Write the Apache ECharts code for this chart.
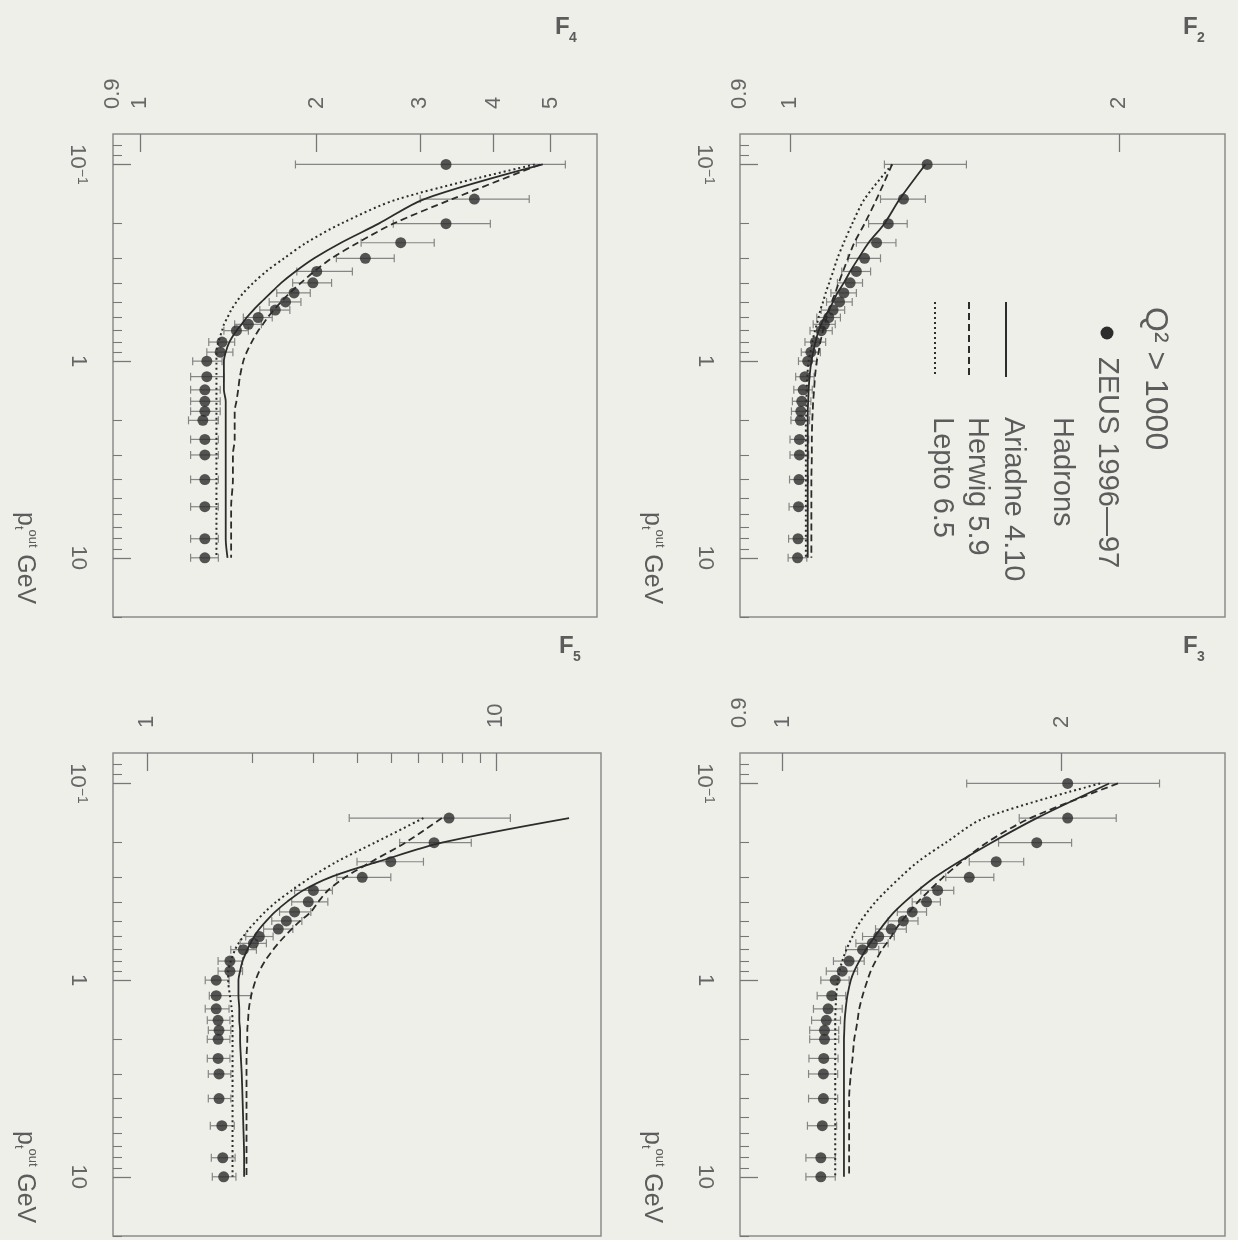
<!DOCTYPE html>
<html>
<head>
<meta charset="utf-8">
<script src="https://cdn.jsdelivr.net/npm/echarts@6/dist/echarts.min.js"></script>
<style>
html, body { margin: 0; padding: 0; background: #efefea; }
#main { width: 1238px; height: 1240px; }
</style>
</head>
<body>
<div id="main"></div>
<script>
// p_t^out bin centres (GeV), same bins in every panel
var ptBins = [0.1, 0.15, 0.2, 0.25, 0.3, 0.35, 0.4, 0.45, 0.5, 0.55, 0.6, 0.65, 0.7, 0.8, 0.9, 1.0, 1.2, 1.4, 1.6, 1.8, 2.0, 2.5, 3, 4, 5.5, 8, 10];

// F2
var f2Zeus = [1.335, 1.27, 1.23, 1.20, 1.17, 1.15, 1.135, 1.12, 1.11, 1.095, 1.085, 1.075, 1.068, 1.055, 1.045, 1.038, 1.032, 1.028, 1.025, 1.023, 1.022, 1.02, 1.02, 1.019, 1.018, 1.017, 1.016];
var f2Lo = [1.22, 1.21, 1.18, 1.15, 1.13, 1.115, 1.105, 1.09, 1.08, 1.068, 1.058, 1.05, 1.043, 1.032, 1.024, 1.018, 1.012, 1.008, 1.005, 1.003, 1.002, 1.0, 1.0, 0.999, 0.998, 0.997, 0.996];
var f2Hi = [1.45, 1.33, 1.28, 1.25, 1.21, 1.185, 1.165, 1.15, 1.14, 1.122, 1.112, 1.1, 1.093, 1.078, 1.066, 1.058, 1.052, 1.048, 1.045, 1.043, 1.042, 1.04, 1.04, 1.039, 1.038, 1.037, 1.036];
var f2Ariadne = [1.33, 1.26, 1.22, 1.18, 1.155, 1.135, 1.12, 1.105, 1.095, 1.085, 1.075, 1.068, 1.062, 1.055, 1.05, 1.046, 1.042, 1.04, 1.039, 1.038, 1.038, 1.038, 1.038, 1.038, 1.038, 1.038, 1.038];
var f2Herwig = [1.24, 1.2, 1.17, 1.145, 1.13, 1.118, 1.108, 1.1, 1.092, 1.086, 1.08, 1.076, 1.072, 1.066, 1.062, 1.058, 1.054, 1.052, 1.05, 1.049, 1.048, 1.047, 1.047, 1.046, 1.046, 1.046, 1.046];
var f2Lepto = [1.24, 1.17, 1.14, 1.12, 1.105, 1.095, 1.086, 1.078, 1.072, 1.066, 1.062, 1.058, 1.054, 1.048, 1.044, 1.04, 1.037, 1.036, 1.035, 1.035, 1.034, 1.034, 1.034, 1.034, 1.034, 1.034, 1.034];

// F3
var f3Zeus = [2.03, 2.03, 1.88, 1.70, 1.59, 1.47, 1.43, 1.38, 1.35, 1.31, 1.27, 1.25, 1.22, 1.18, 1.16, 1.14, 1.13, 1.12, 1.115, 1.11, 1.11, 1.108, 1.107, 1.107, 1.104, 1.10, 1.10];
var f3Lo = [1.58, 1.80, 1.71, 1.59, 1.50, 1.41, 1.38, 1.33, 1.30, 1.26, 1.22, 1.2, 1.17, 1.135, 1.115, 1.1, 1.09, 1.08, 1.075, 1.07, 1.07, 1.068, 1.067, 1.067, 1.064, 1.06, 1.06];
var f3Hi = [2.55, 2.29, 2.05, 1.82, 1.69, 1.53, 1.48, 1.43, 1.40, 1.36, 1.32, 1.30, 1.27, 1.225, 1.205, 1.18, 1.17, 1.16, 1.155, 1.15, 1.15, 1.148, 1.147, 1.147, 1.144, 1.14, 1.14];
var f3Ariadne = [2.25, 1.88, 1.68, 1.55, 1.46, 1.40, 1.355, 1.32, 1.295, 1.275, 1.258, 1.243, 1.23, 1.21, 1.195, 1.185, 1.175, 1.17, 1.167, 1.166, 1.165, 1.165, 1.165, 1.165, 1.165, 1.165, 1.165];
var f3Herwig = [2.3, 1.85, 1.66, 1.56, 1.49, 1.44, 1.40, 1.37, 1.345, 1.325, 1.31, 1.295, 1.28, 1.26, 1.245, 1.235, 1.22, 1.21, 1.205, 1.2, 1.195, 1.19, 1.185, 1.18, 1.18, 1.18, 1.18];
var f3Lepto = [2.2, 1.65, 1.50, 1.40, 1.34, 1.295, 1.26, 1.235, 1.215, 1.2, 1.19, 1.18, 1.172, 1.16, 1.152, 1.147, 1.143, 1.141, 1.14, 1.14, 1.14, 1.14, 1.14, 1.14, 1.14, 1.14, 1.14];

// F4
var f4Zeus = [3.32, 3.71, 3.32, 2.78, 2.42, 2.0, 1.97, 1.83, 1.77, 1.70, 1.59, 1.53, 1.46, 1.38, 1.37, 1.30, 1.30, 1.29, 1.29, 1.29, 1.28, 1.29, 1.29, 1.29, 1.29, 1.29, 1.29];
var f4Lo = [1.84, 3.0, 2.7, 2.38, 2.16, 1.85, 1.82, 1.71, 1.66, 1.60, 1.50, 1.45, 1.39, 1.31, 1.30, 1.23, 1.22, 1.22, 1.22, 1.22, 1.21, 1.22, 1.22, 1.22, 1.22, 1.22, 1.22];
var f4Hi = [5.3, 4.6, 3.95, 3.17, 2.71, 2.3, 2.12, 1.95, 1.88, 1.80, 1.68, 1.61, 1.53, 1.45, 1.44, 1.38, 1.39, 1.37, 1.37, 1.37, 1.36, 1.36, 1.36, 1.36, 1.36, 1.36, 1.36];
var f4Ariadne = [4.85, 3.05, 2.55, 2.2, 1.98, 1.84, 1.74, 1.67, 1.61, 1.56, 1.52, 1.49, 1.46, 1.42, 1.40, 1.39, 1.39, 1.39, 1.40, 1.40, 1.40, 1.40, 1.40, 1.40, 1.40, 1.40, 1.41];
var f4Herwig = [4.8, 3.4, 2.7, 2.35, 2.12, 1.98, 1.88, 1.80, 1.74, 1.69, 1.65, 1.62, 1.59, 1.55, 1.52, 1.50, 1.48, 1.47, 1.46, 1.45, 1.45, 1.45, 1.44, 1.44, 1.43, 1.43, 1.43];
var f4Lepto = [4.7, 2.75, 2.2, 1.92, 1.76, 1.64, 1.56, 1.50, 1.46, 1.43, 1.41, 1.39, 1.38, 1.36, 1.35, 1.35, 1.35, 1.35, 1.35, 1.35, 1.35, 1.35, 1.35, 1.35, 1.35, 1.35, 1.35];

// F5 (first bin is off scale)
var f5Zeus = [null, 7.34, 6.65, 5.0, 4.14, 3.0, 2.9, 2.65, 2.51, 2.38, 2.10, 2.02, 1.89, 1.73, 1.73, 1.58, 1.58, 1.58, 1.60, 1.61, 1.60, 1.60, 1.61, 1.61, 1.64, 1.65, 1.66];
var f5Lo = [null, 3.8, 5.3, 4.0, 3.5, 2.65, 2.6, 2.4, 2.28, 2.16, 1.92, 1.85, 1.74, 1.6, 1.6, 1.47, 1.51, 1.47, 1.49, 1.5, 1.49, 1.49, 1.5, 1.5, 1.52, 1.53, 1.54];
var f5Hi = [null, 11, 8.5, 6.2, 5.0, 3.4, 3.3, 2.95, 2.78, 2.62, 2.3, 2.2, 2.06, 1.88, 1.88, 1.72, 1.99, 1.72, 1.73, 1.74, 1.73, 1.73, 1.74, 1.74, 1.78, 1.79, 1.8];
var f5Ariadne = [null, 16.2, 7.0, 4.6, 3.35, 2.8, 2.52, 2.33, 2.2, 2.1, 2.03, 1.98, 1.94, 1.88, 1.85, 1.83, 1.83, 1.84, 1.84, 1.85, 1.85, 1.86, 1.87, 1.88, 1.89, 1.9, 1.9];
var f5Herwig = [null, 7.0, 5.5, 4.4, 3.7, 3.3, 3.1, 2.95, 2.75, 2.6, 2.48, 2.38, 2.3, 2.18, 2.1, 2.05, 1.99, 1.96, 1.95, 1.94, 1.94, 1.93, 1.93, 1.93, 1.93, 1.93, 1.93];
var f5Lepto = [null, 6.2, 4.5, 3.5, 2.95, 2.6, 2.35, 2.18, 2.06, 1.96, 1.89, 1.83, 1.79, 1.74, 1.71, 1.71, 1.73, 1.75, 1.76, 1.76, 1.76, 1.76, 1.76, 1.76, 1.76, 1.76, 1.76];

// tick / label values
var ptMajor = [0.1, 1, 10];
var ptMinor = [0.08, 0.09, 0.2, 0.3, 0.4, 0.5, 0.6, 0.7, 0.8, 0.9, 2, 3, 4, 5, 6, 7, 8, 9, 20];
var ptLabels = [0.1, 1, 10];

var fontName = '"Liberation Sans", Arial, sans-serif';
var ink = '#2c2c2c';
var textGrey = '#5c5c5c';

var panels = [
	{ sub: '2', box: [740, 134, 485, 483], fMin: 0.9, fMax: 2.5, fTicks: [1, 2], fMinor: [], fLabels: [0.9, 1, 2],
		zeus: f2Zeus, lo: f2Lo, hi: f2Hi, ariadne: f2Ariadne, herwig: f2Herwig, lepto: f2Lepto },
	{ sub: '3', box: [740, 753, 485, 483], fMin: 0.9, fMax: 3, fTicks: [1, 2], fMinor: [], fLabels: [0.9, 1, 2],
		zeus: f3Zeus, lo: f3Lo, hi: f3Hi, ariadne: f3Ariadne, herwig: f3Herwig, lepto: f3Lepto },
	{ sub: '4', box: [113, 134, 484, 483], fMin: 0.9, fMax: 6, fTicks: [1, 2, 3, 4, 5], fMinor: [], fLabels: [0.9, 1, 2, 3, 4, 5],
		zeus: f4Zeus, lo: f4Lo, hi: f4Hi, ariadne: f4Ariadne, herwig: f4Herwig, lepto: f4Lepto },
	{ sub: '5', box: [113, 753, 488, 483], fMin: 0.8, fMax: 20, fTicks: [1, 10], fMinor: [2, 3, 4, 5, 6, 7, 8, 9], fLabels: [1, 10],
		zeus: f5Zeus, lo: f5Lo, hi: f5Hi, ariadne: f5Ariadne, herwig: f5Herwig, lepto: f5Lepto }
];

function pairs(vals) {
	var out = [];
	for (var i = 0; i < ptBins.length; i++) {
		if (vals[i] != null) out.push([vals[i], ptBins[i]]);
	}
	return out;
}

function errPairs(lo, hi) {
	var out = [];
	for (var i = 0; i < ptBins.length; i++) {
		if (lo[i] != null) out.push([lo[i], hi[i], ptBins[i]]);
	}
	return out;
}

function renderErr(params, api) {
	var a = api.coord([api.value(0), api.value(2)]);
	var b = api.coord([api.value(1), api.value(2)]);
	var st = { stroke: '#858585', lineWidth: 1.2 };
	var c = 4;
	return {
		type: 'group',
		children: [
			{ type: 'line', shape: { x1: a[0], y1: a[1], x2: b[0], y2: b[1] }, style: st },
			{ type: 'line', shape: { x1: a[0], y1: a[1] - c, x2: a[0], y2: a[1] + c }, style: st },
			{ type: 'line', shape: { x1: b[0], y1: b[1] - c, x2: b[0], y2: b[1] + c }, style: st }
		]
	};
}

var labelStyle = { color: '#666', fontSize: 22, fontFamily: fontName };

var option = {
	backgroundColor: '#efefea',
	animation: false,
	grid: [], xAxis: [], yAxis: [], series: [], graphic: []
};

panels.forEach(function(p, i) {
	option.grid.push({
		left: p.box[0], top: p.box[1], width: p.box[2], height: p.box[3],
		show: true, borderColor: '#8c8c8c', borderWidth: 1.5, backgroundColor: 'transparent'
	});
	// F axis (horizontal, drawn along the top edge)
	option.xAxis.push({
		gridIndex: i, type: 'log', min: p.fMin, max: p.fMax, position: 'top',
		axisLine: { show: false }, splitLine: { show: false },
		axisTick: { inside: true, length: 18, customValues: p.fTicks, lineStyle: { color: '#777', width: 1.3 } },
		axisLabel: Object.assign({ customValues: p.fLabels, rotate: -90, margin: 25,
			formatter: function(v) { return String(+(+v).toPrecision(3)); } }, labelStyle)
	});
	option.xAxis.push({
		gridIndex: i, type: 'log', min: p.fMin, max: p.fMax, position: 'top',
		axisLine: { show: false }, splitLine: { show: false }, axisLabel: { show: false },
		axisTick: { show: p.fMinor.length > 0, inside: true, length: 10, customValues: p.fMinor.length ? p.fMinor : [1], lineStyle: { color: '#777', width: 1.2 } }
	});
	// p_t axis (vertical, increasing downwards)
	option.yAxis.push({
		gridIndex: i, type: 'log', min: 0.07, max: 20, inverse: true, position: 'left',
		axisLine: { show: false }, splitLine: { show: false },
		axisTick: { inside: true, length: 18, customValues: ptMajor, lineStyle: { color: '#777', width: 1.3 } },
		axisLabel: Object.assign({ customValues: ptLabels, rotate: -90, margin: 24,
			formatter: function(v) {
				if (Math.abs(v - 0.1) < 1e-6) return '{n|10}{s|\u22121}';
				return String(Math.round(v));
			},
			rich: {
				n: { fontSize: 22, color: '#666', fontFamily: fontName },
				s: { fontSize: 14, color: '#666', fontFamily: fontName, padding: [0, 0, 10, 0] }
			}
		}, labelStyle)
	});
	option.yAxis.push({
		gridIndex: i, type: 'log', min: 0.07, max: 20, inverse: true, position: 'left',
		axisLine: { show: false }, splitLine: { show: false }, axisLabel: { show: false },
		axisTick: { inside: true, length: 9, customValues: ptMinor, lineStyle: { color: '#777', width: 1.1 } }
	});

	var xi = 2 * i, yi = 2 * i;
	option.series.push({
		type: 'custom', xAxisIndex: xi, yAxisIndex: yi, renderItem: renderErr,
		data: errPairs(p.lo, p.hi), encode: { x: [0, 1], y: 2 }, z: 2
	});
	var models = [
		{ name: 'Ariadne 4.10', vals: p.ariadne, dash: 'solid', w: 1.8 },
		{ name: 'Herwig 5.9', vals: p.herwig, dash: [7, 4], w: 1.8 },
		{ name: 'Lepto 6.5', vals: p.lepto, dash: [2, 3], w: 2 }
	];
	models.forEach(function(m) {
		option.series.push({
			type: 'line', name: m.name, xAxisIndex: xi, yAxisIndex: yi,
			data: pairs(m.vals), showSymbol: false, smooth: 0.3,
			lineStyle: { color: ink, width: m.w, type: m.dash }, z: 3
		});
	});
	option.series.push({
		type: 'scatter', name: 'ZEUS 1996-97', xAxisIndex: xi, yAxisIndex: yi,
		data: pairs(p.zeus), symbol: 'circle', symbolSize: 11,
		itemStyle: { color: ink }, z: 4
	});

	// panel title F_n (upright)
	var fx = p.box[0] + p.box[2] - 42, fy = p.box[1] - 119;
	option.graphic.push({ type: 'text', x: fx, y: fy, style: { text: 'F', font: 'bold 24px ' + fontName, fill: textGrey } });
	option.graphic.push({ type: 'text', x: fx + 14, y: fy + 16, style: { text: p.sub, font: 'bold 14px ' + fontName, fill: textGrey } });
	// axis title p_t^out GeV (rotated with the page)
	option.graphic.push({
		type: 'text', x: p.box[0] - 88, y: p.box[1] + 378, rotation: -Math.PI / 2,
		style: {
			text: '{p|p}{t|t}{o|out}  {g|GeV}', verticalAlign: 'middle', align: 'left',
			rich: {
				p: { fontSize: 25, fill: textGrey, fontFamily: fontName },
				t: { fontSize: 13, fill: textGrey, fontFamily: fontName, padding: [12, 0, 0, 0] },
				o: { fontSize: 13, fill: textGrey, fontFamily: fontName, padding: [0, 0, 16, 0] },
				g: { fontSize: 25, fill: textGrey, fontFamily: fontName }
			}
		}
	});
});

// legend, drawn inside the F2 panel and rotated like the rest of the page
var leg = panels[0].box;
var legFont = '29px ' + fontName;
option.graphic.push({
	type: 'group', x: leg[0] + 445, y: leg[1] + 161, rotation: -Math.PI / 2,
	children: [
		{ type: 'text', x: 12, y: 30, style: { text: 'Q\u00b2 > 1000', font: '32px ' + fontName, fill: textGrey, verticalAlign: 'middle' } },
		{ type: 'circle', shape: { cx: 38, cy: 78, r: 6.5 }, style: { fill: ink } },
		{ type: 'text', x: 62, y: 78, style: { text: 'ZEUS 1996\u201497', font: legFont, fill: textGrey, verticalAlign: 'middle' } },
		{ type: 'text', x: 122, y: 123, style: { text: 'Hadrons', font: legFont, fill: textGrey, verticalAlign: 'middle' } },
		{ type: 'line', shape: { x1: 7, y1: 179, x2: 82, y2: 179 }, style: { stroke: ink, lineWidth: 2 } },
		{ type: 'text', x: 122, y: 172, style: { text: 'Ariadne 4.10', font: legFont, fill: textGrey, verticalAlign: 'middle' } },
		{ type: 'line', shape: { x1: 7, y1: 216, x2: 82, y2: 216 }, style: { stroke: ink, lineWidth: 2, lineDash: [7, 4] } },
		{ type: 'text', x: 122, y: 208, style: { text: 'Herwig 5.9', font: legFont, fill: textGrey, verticalAlign: 'middle' } },
		{ type: 'line', shape: { x1: 7, y1: 250, x2: 82, y2: 250 }, style: { stroke: ink, lineWidth: 2, lineDash: [2, 3] } },
		{ type: 'text', x: 122, y: 243, style: { text: 'Lepto 6.5', font: legFont, fill: textGrey, verticalAlign: 'middle' } }
	]
});

var myChart = echarts.init(document.getElementById('main'));
myChart.setOption(option);
</script>
</body>
</html>
